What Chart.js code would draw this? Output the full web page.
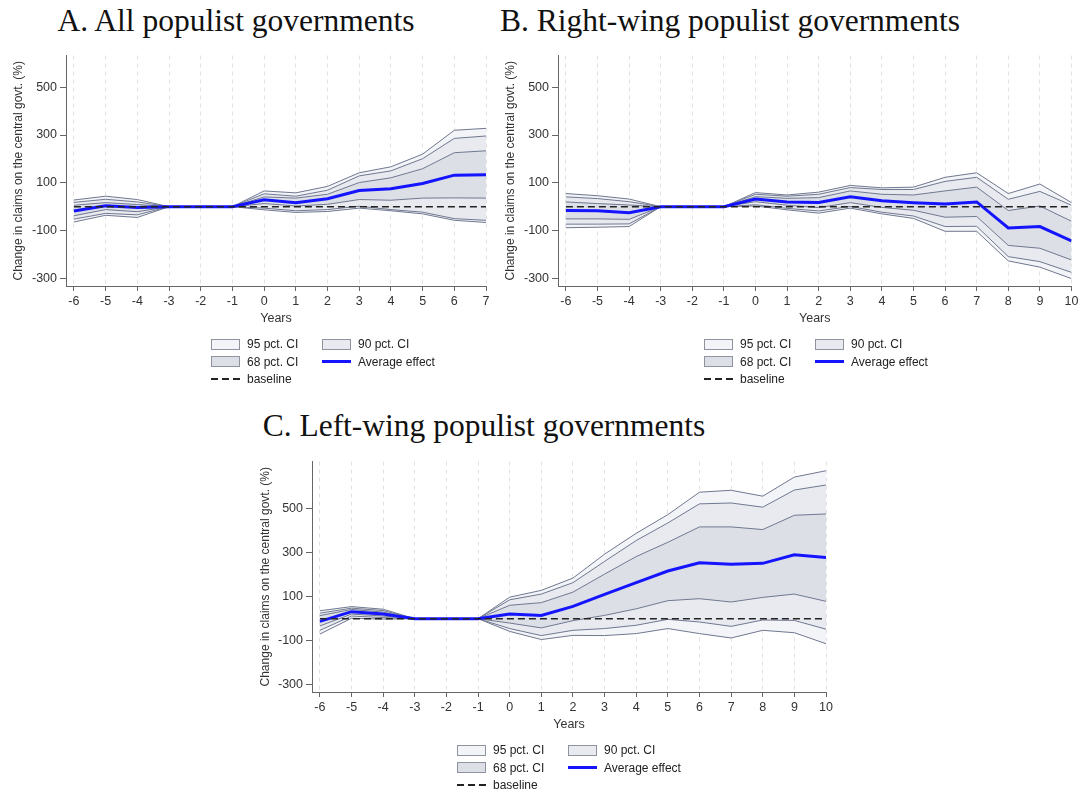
<!DOCTYPE html>
<html>
<head>
<meta charset="utf-8">
<script src="https://cdn.jsdelivr.net/npm/chart.js@4.4.1/dist/chart.umd.min.js"></script>
<style>
  html, body { margin: 0; padding: 0; background: #fff; }
  body { width: 1087px; height: 794px; position: relative; overflow: hidden;
         font-family: "Liberation Sans", Arial, sans-serif; }
  canvas { position: absolute; }
  .ttl { position: absolute; font-family: "Liberation Serif", "Times New Roman", serif;
         font-size: 31.5px; line-height: 31px; color: #111; white-space: nowrap;
         transform: translateX(-50%); }
  .lgtext { position: absolute; font-size: 12px; line-height: 14px; color: #222; white-space: nowrap; }
  .sw { position: absolute; box-sizing: border-box; width: 29px; height: 11px; border: 1px solid #8e93a0; }
  .ln { position: absolute; width: 29px; height: 3px; background: #1414ff; }
  .dash { position: absolute; width: 29px; height: 1.5px;
          background: repeating-linear-gradient(to right, #222 0 7px, transparent 7px 11px); }
</style>
</head>
<body>

<div class="ttl" style="left:236px; top:5px;">A. All populist governments</div>
<div class="ttl" style="left:730px; top:5px;">B. Right-wing populist governments</div>
<div class="ttl" style="left:484px; top:410px;">C. Left-wing populist governments</div>

<canvas id="panelA" width="500" height="295" style="left:0px; top:45px;"></canvas>
<canvas id="panelB" width="592" height="295" style="left:495px; top:45px;"></canvas>
<canvas id="panelC" width="590" height="295" style="left:250px; top:451px;"></canvas>

<div id="legendA"></div>
<div id="legendB"></div>
<div id="legendC"></div>

<script>
// ---- Event-time axes ----
const yearsA = [-6, -5, -4, -3, -2, -1, 0, 1, 2, 3, 4, 5, 6, 7];
const yearsB = [-6, -5, -4, -3, -2, -1, 0, 1, 2, 3, 4, 5, 6, 7, 8, 9, 10];
const yearsC = [-6, -5, -4, -3, -2, -1, 0, 1, 2, 3, 4, 5, 6, 7, 8, 9, 10];
const yTickValues = [-300, -100, 100, 300, 500];

// ---- A. All populist governments ----
const meanA = [-18, 4, -3, 0, 0, 0, 29, 17, 33, 68, 75, 97, 132, 134];
const hi95A = [28, 44, 30, 0, 0, 0, 66, 58, 85, 142, 167, 220, 320, 328];
const hi90A = [18, 31, 20, 0, 0, 0, 54, 44, 69, 129, 150, 201, 286, 296];
const hi68A = [6, 17, 9, 0, 0, 0, 41, 36, 52, 101, 121, 159, 226, 234];
const lo68A = [-38, -12, -21, 0, 0, 0, 13, 3, 10, 30, 27, 36, 37, 36];
const lo90A = [-52, -28, -34, 0, 0, 0, -6, -17, -12, 2, -12, -23, -50, -57];
const lo95A = [-64, -36, -45, 0, 0, 0, -13, -24, -20, -6, -17, -30, -57, -66];

// ---- B. Right-wing populist governments ----
const meanB = [-16, -17, -25, 0, 0, 0, 32, 20, 18, 42, 25, 17, 11, 20, -89, -83, -143];
const hi95B = [55, 46, 32, 0, 0, 0, 59, 49, 61, 89, 79, 82, 123, 142, 55, 95, 17];
const hi90B = [41, 34, 21, 0, 0, 0, 52, 44, 52, 80, 72, 72, 106, 123, 31, 64, 6];
const hi68B = [20, 13, 7, 0, 0, 0, 42, 35, 38, 66, 52, 49, 66, 82, -16, 3, -61];
const lo68B = [-51, -51, -53, 0, 0, 0, 21, 6, -4, 17, -3, -15, -44, -41, -162, -174, -223];
const lo90B = [-73, -73, -72, 0, 0, 0, 8, -7, -18, 1, -23, -39, -83, -82, -209, -230, -275];
const lo95B = [-88, -86, -83, 0, 0, 0, 3, -13, -27, -6, -30, -49, -103, -103, -227, -253, -301];

// ---- C. Left-wing populist governments ----
const meanC = [-12, 32, 21, 0, 0, 0, 21, 15, 56, 111, 164, 217, 255, 248, 252, 291, 279];
const hi95C = [36, 55, 43, 0, 0, 0, 98, 129, 185, 294, 389, 474, 576, 585, 558, 645, 674];
const hi90C = [25, 48, 37, 0, 0, 0, 86, 112, 164, 261, 356, 436, 523, 527, 508, 586, 609];
const hi68C = [14, 42, 30, 0, 0, 0, 61, 73, 121, 203, 283, 348, 418, 418, 406, 471, 477];
const lo68C = [-33, 21, 12, 0, 0, 0, -20, -42, -9, 15, 45, 82, 91, 76, 97, 112, 79];
const lo90C = [-53, 12, 5, 0, 0, 0, -45, -77, -53, -45, -30, -3, -15, -35, -6, -8, -48];
const lo95C = [-70, 2, -2, 0, 0, 0, -58, -95, -76, -77, -68, -45, -68, -88, -53, -64, -114];

const BASELINE_VALUE = 0;

// ---- Styling ----
const FILL95 = '#f3f4f7';
const FILL90 = '#e8eaef';
const FILL68 = '#dcdfe6';
const BAND_LINE = '#707890';
const MEAN_COLOR = '#1414ff';
const AXIS_COLOR = '#666666';
const TEXT_COLOR = '#333333';
const SANS = '"Liberation Sans", Arial, sans-serif';

function pts(xs, ys) { return xs.map((x, i) => ({ x: x, y: ys[i] })); }

function makePanel(id, years, s, o) {
  const band = (data, extra) => Object.assign({
    data: pts(years, data), borderColor: BAND_LINE, borderWidth: 1,
    pointRadius: 0, fill: false, tension: 0
  }, extra || {});

  // drawn last-to-first: 95 band fills first, 68 band on top, baseline last
  const datasets = [
    { label: 'baseline', data: pts(years, years.map(() => BASELINE_VALUE)),
      borderColor: '#222', borderWidth: 1.5, borderDash: [7, 4], pointRadius: 0, fill: false },
    { label: 'Average effect', data: pts(years, s.mean), borderColor: MEAN_COLOR,
      borderWidth: 3, pointRadius: 0, fill: false, tension: 0 },
    band(s.hi68, { label: '68 pct. CI', fill: '+1', backgroundColor: FILL68 }),
    band(s.lo68),
    band(s.hi90, { label: '90 pct. CI', fill: '+1', backgroundColor: FILL90 }),
    band(s.lo90),
    band(s.hi95, { label: '95 pct. CI', fill: '+1', backgroundColor: FILL95 }),
    band(s.lo95)
  ];

  return new Chart(document.getElementById(id), {
    type: 'line',
    data: { datasets: datasets },
    options: {
      responsive: false,
      animation: false,
      devicePixelRatio: 1,
      layout: { padding: { top: 3.5, right: o.pr, left: 0, bottom: 0 }, autoPadding: false },
      plugins: {
        legend: { display: false },
        tooltip: { enabled: false },
        filler: { drawTime: 'beforeDatasetsDraw', propagate: false }
      },
      scales: {
        x: {
          type: 'linear', min: -6.25, max: years[years.length - 1],
          afterBuildTicks: sc => { sc.ticks = years.map(v => ({ value: v })); },
          afterFit: sc => { sc.height = 54; },
          ticks: { font: { family: SANS, size: 12.5 }, color: TEXT_COLOR, padding: 3.5,
                   maxRotation: 0, autoSkip: false, callback: v => String(v) },
          grid: { display: true, drawOnChartArea: true, drawTicks: true, tickLength: 5,
                  color: '#e2e2e2', lineWidth: 1, tickColor: AXIS_COLOR, tickWidth: 1 },
          border: { display: true, color: AXIS_COLOR, width: 1, dash: [4, 4] },
          title: { display: true, text: 'Years', color: TEXT_COLOR,
                   font: { family: SANS, size: 12.5 }, padding: { top: 0, bottom: 14 } }
        },
        y: {
          type: 'linear', min: o.ymin, max: o.ymax,
          afterBuildTicks: sc => { sc.ticks = yTickValues.map(v => ({ value: v })); },
          afterFit: sc => { sc.width = o.yw; },
          ticks: { font: { family: SANS, size: 12.5 }, color: TEXT_COLOR, padding: 3,
                   callback: v => String(v) },
          grid: { display: true, drawOnChartArea: false, drawTicks: true, tickLength: 6,
                  tickColor: AXIS_COLOR, tickWidth: 1 },
          border: { display: true, color: AXIS_COLOR, width: 1 },
          title: { display: true, text: 'Change in claims on the central govt. (%)',
                   color: TEXT_COLOR, font: { family: SANS, size: 12 },
                   padding: { top: o.ytp, bottom: 0 } }
        }
      }
    }
  });
}

makePanel('panelA', yearsA,
  { mean: meanA, hi95: hi95A, hi90: hi90A, hi68: hi68A, lo68: lo68A, lo90: lo90A, lo95: lo95A },
  { pr: 14, yw: 66, ytp: 11.3, ymin: -332, ymax: 633 });
makePanel('panelB', yearsB,
  { mean: meanB, hi95: hi95B, hi90: hi90B, hi68: hi68B, lo68: lo68B, lo90: lo90B, lo95: lo95B },
  { pr: 15.5, yw: 63, ytp: 8.3, ymin: -332, ymax: 633 });
makePanel('panelC', yearsC,
  { mean: meanC, hi95: hi95C, hi90: hi90C, hi68: hi68C, lo68: lo68C, lo90: lo90C, lo95: lo95C },
  { pr: 14, yw: 62, ytp: 8.3, ymin: -334, ymax: 716 });

// ---- Legends (two columns, row-major) ----
const legendItems = [
  { label: '95 pct. CI', kind: 'box', fill: FILL95 },
  { label: '90 pct. CI', kind: 'box', fill: FILL90 },
  { label: '68 pct. CI', kind: 'box', fill: FILL68 },
  { label: 'Average effect', kind: 'line' },
  { label: 'baseline', kind: 'dash' }
];

function buildLegend(id, left, rowCenters) {
  const host = document.getElementById(id);
  legendItems.forEach((it, i) => {
    const col = i % 2, row = Math.floor(i / 2);
    const x = left + col * 111, yc = rowCenters[row];
    const key = document.createElement('div');
    if (it.kind === 'box') {
      key.className = 'sw';
      key.style.background = it.fill;
      key.style.left = x + 'px';
      key.style.top = (yc - 5.5) + 'px';
    } else if (it.kind === 'line') {
      key.className = 'ln';
      key.style.left = x + 'px';
      key.style.top = (yc - 1.5) + 'px';
    } else {
      key.className = 'dash';
      key.style.left = x + 'px';
      key.style.top = (yc - 0.75) + 'px';
    }
    host.appendChild(key);
    const t = document.createElement('div');
    t.className = 'lgtext';
    t.textContent = it.label;
    t.style.left = (x + 36) + 'px';
    t.style.top = (yc - 7) + 'px';
    host.appendChild(t);
  });
}

buildLegend('legendA', 211, [344, 361.5, 379]);
buildLegend('legendB', 704, [344, 361.5, 379]);
buildLegend('legendC', 457, [750, 767.5, 785]);
</script>
</body>
</html>
